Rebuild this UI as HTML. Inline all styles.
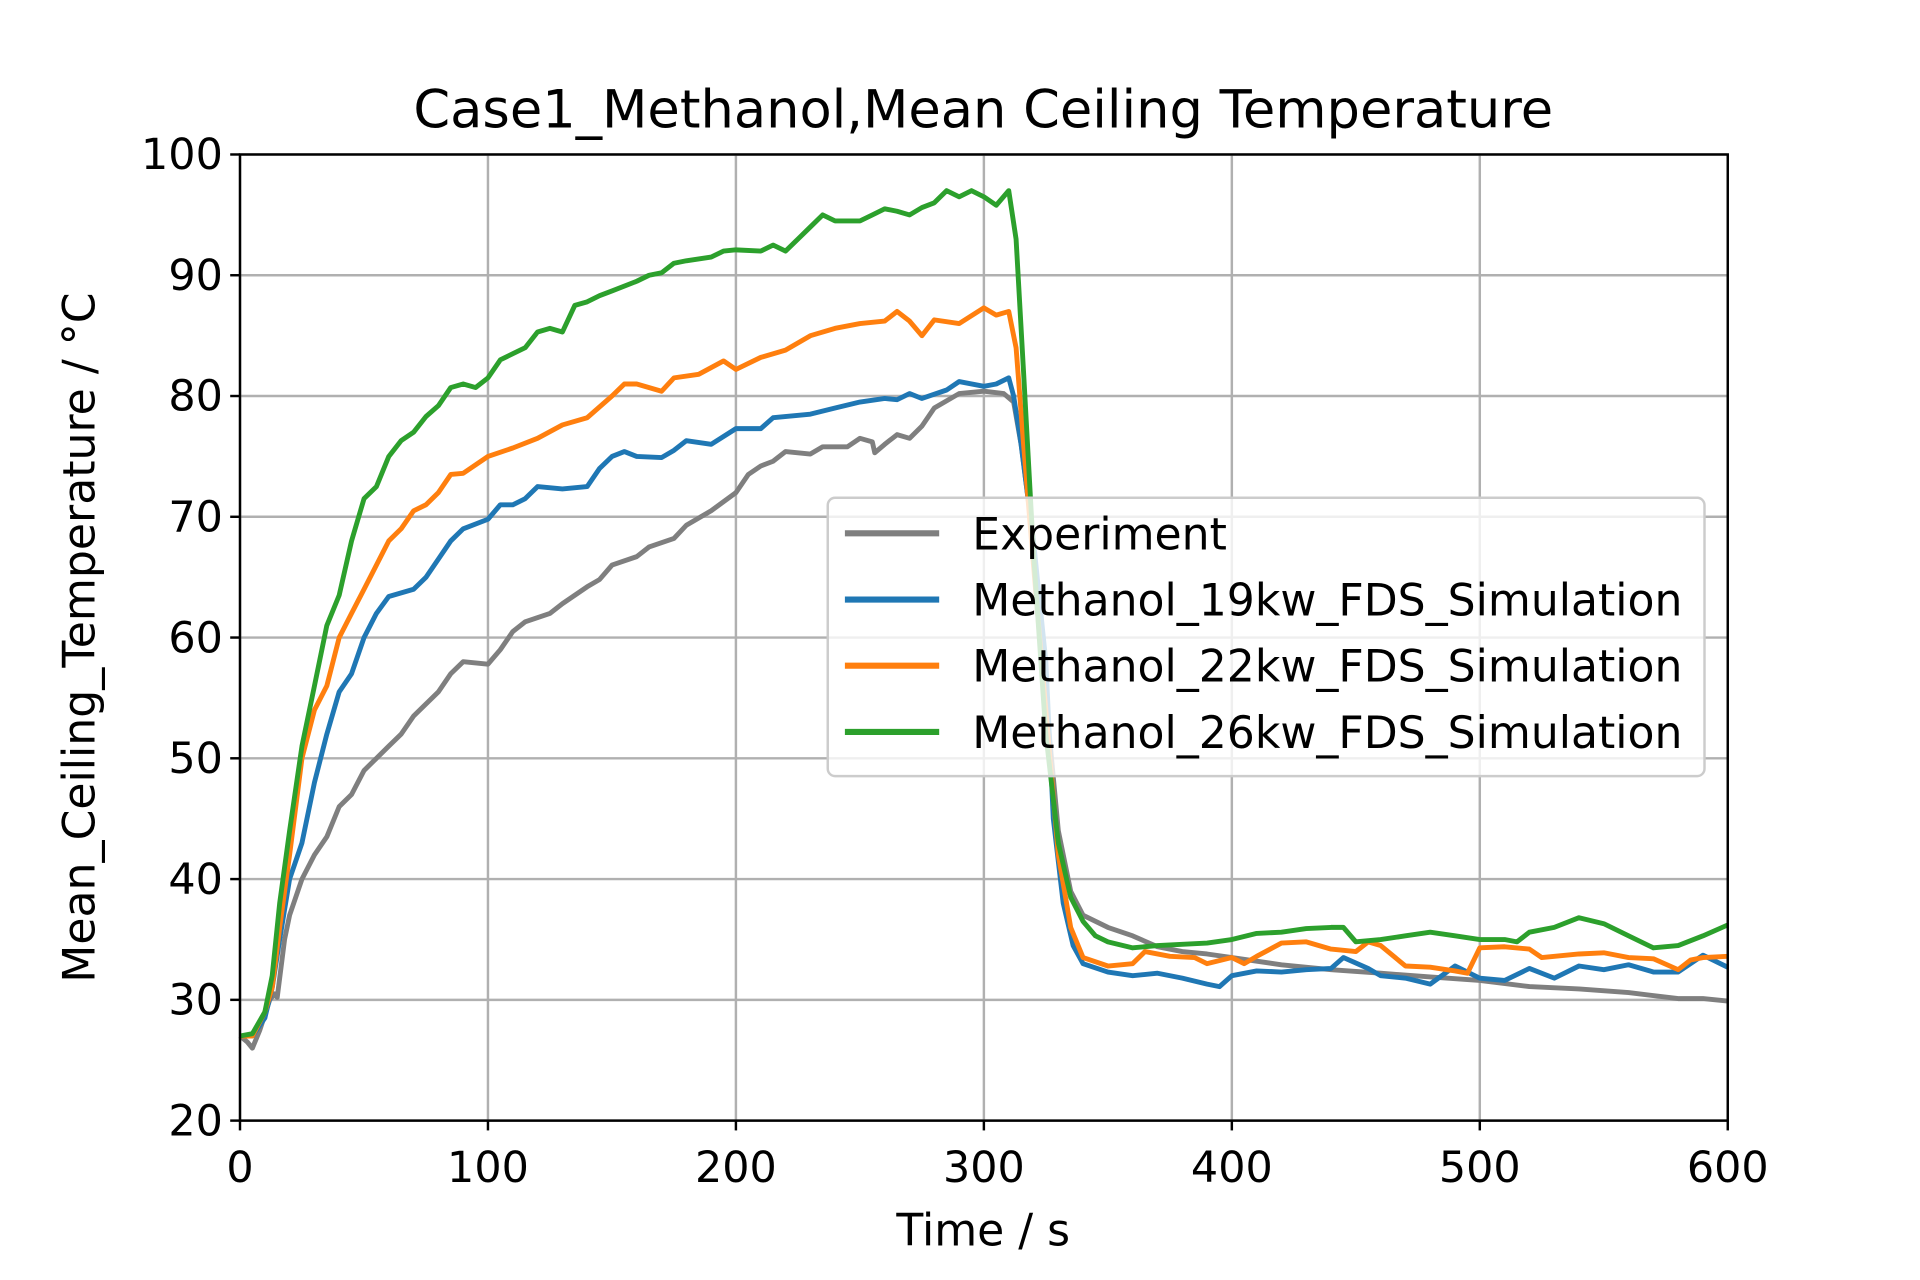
<!DOCTYPE html>
<html><head><meta charset="utf-8">
<style>
html,body{margin:0;padding:0;background:#fff;}
svg{display:block;font-family:"DejaVu Sans","Liberation Sans",sans-serif;}
</style></head>
<body>
<svg id="chart" width="1920" height="1280" viewBox="0 0 1568 1044" preserveAspectRatio="none" xmlns="http://www.w3.org/2000/svg">
<rect width="1568" height="1044" fill="#fff"/>
<g id="grid"></g>
<g id="series"></g>
<rect x="196" y="126" width="1215" height="788" fill="none" stroke="#000" stroke-width="2"/>
<g id="ticks"></g>
<text x="803" y="104" font-size="43" text-anchor="middle">Case1_Methanol,Mean Ceiling Temperature</text>
<text x="803" y="1016" font-size="36" text-anchor="middle">Time / s</text>
<text transform="translate(77,520) rotate(-90)" font-size="36" text-anchor="middle">Mean_Ceiling_Temperature / °C</text>
<g>
<rect x="676" y="406" width="716" height="227" rx="6" fill="#fff" fill-opacity="0.8" stroke="#ccc" stroke-width="2"/>
<line x1="690" y1="435" x2="767" y2="435" stroke="#7f7f7f" stroke-width="5"/>
<text x="794" y="448" font-size="36">Experiment</text>
<line x1="690" y1="489" x2="767" y2="489" stroke="#1f77b4" stroke-width="5"/>
<text x="794" y="502" font-size="36">Methanol_19kw_FDS_Simulation</text>
<line x1="690" y1="543" x2="767" y2="543" stroke="#ff7f0e" stroke-width="5"/>
<text x="794" y="556" font-size="36">Methanol_22kw_FDS_Simulation</text>
<line x1="690" y1="597" x2="767" y2="597" stroke="#2ca02c" stroke-width="5"/>
<text x="794" y="610" font-size="36">Methanol_26kw_FDS_Simulation</text>
</g>
</svg>
<script>
const xTicks=[0,100,200,300,400,500,600];
const yTicks=[20,30,40,50,60,70,80,90,100];
const expT=[0,3,5,8,12,14,15,18,20,25,30,35,40,45,50,55,60,65,70,80,85,90,100,105,110,115,125,130,140,145,150,160,165,175,180,190,200,205,210,215,220,230,235,245,250,255,256,260,265,270,275,280,290,300,308,312,315,320,325,330,335,340,350,360,370,380,390,400,420,440,460,480,500,520,540,560,580,590,600];
const expV=[27,26.5,26,27.5,30,30.5,30.2,35,37,40,42,43.5,46,47,49,50,51,52,53.5,55.5,57,58,57.8,59,60.5,61.3,62,62.8,64.2,64.8,66,66.7,67.5,68.2,69.3,70.5,72,73.5,74.2,74.6,75.4,75.2,75.8,75.8,76.5,76.2,75.3,76,76.8,76.5,77.5,79,80.2,80.4,80.2,79.5,76,68,55,44,39,37,36,35.3,34.4,34,33.8,33.5,32.9,32.5,32.2,31.9,31.6,31.1,30.9,30.6,30.1,30.1,29.9];
const s19T=[0,5,10,13,16,20,25,30,35,40,45,50,55,60,70,75,80,85,90,100,105,110,115,120,130,140,145,150,155,160,170,175,180,190,200,210,215,230,240,250,260,265,270,275,285,290,300,305,310,312,315,320,325,328,332,336,340,350,360,370,380,390,395,400,410,420,430,440,445,455,460,470,480,490,500,510,520,530,540,550,560,570,580,590,600];
const s19V=[27,27,28.5,31,35,40,43,48,52,55.5,57,60,62,63.4,64,65,66.5,68,69,69.8,71,71,71.5,72.5,72.3,72.5,74,75,75.4,75,74.9,75.5,76.3,76,77.3,77.3,78.2,78.5,79,79.5,79.8,79.7,80.2,79.8,80.5,81.2,80.8,81,81.5,80,76,68,58,45,38,34.5,33,32.3,32,32.2,31.8,31.3,31.1,32,32.4,32.3,32.5,32.6,33.5,32.6,32,31.8,31.3,32.8,31.8,31.6,32.6,31.8,32.8,32.5,32.9,32.3,32.3,33.7,32.7];
const s22T=[0,5,10,13,16,20,25,30,35,40,45,50,55,60,65,70,75,80,85,90,100,110,120,130,140,150,155,160,170,175,185,195,200,210,220,230,240,250,260,265,270,275,280,290,300,305,310,313,316,320,325,330,335,340,350,360,365,375,385,390,400,405,410,420,430,440,450,455,460,470,480,490,495,500,510,520,525,540,550,560,570,580,585,590,600];
const s22V=[27,27,29,31,36,42,50,54,56,60,62,64,66,68,69,70.5,71,72,73.5,73.6,75,75.7,76.5,77.6,78.2,80,81,81,80.4,81.5,81.8,82.9,82.2,83.2,83.8,85,85.6,86,86.2,87,86.2,85,86.3,86,87.3,86.7,87,84,76,66,54,42,36,33.5,32.8,33,34,33.6,33.5,33,33.5,33,33.6,34.7,34.8,34.2,34,34.8,34.5,32.8,32.7,32.4,32.2,34.3,34.4,34.2,33.5,33.8,33.9,33.5,33.4,32.5,33.3,33.5,33.6];
const s26T=[0,5,10,13,16,20,25,30,35,40,45,50,55,60,65,70,75,80,85,90,95,100,105,110,115,120,125,130,135,140,145,150,160,165,170,175,180,190,195,200,210,215,220,225,230,235,240,250,255,260,265,270,275,280,285,290,295,300,305,310,313,316,320,325,330,335,340,345,350,360,370,380,390,400,410,420,430,440,445,450,460,470,480,490,500,510,515,520,530,540,550,560,570,580,590,600];
const s26V=[27,27.2,29,32,38,44,51,56,61,63.5,68,71.5,72.5,75,76.3,77,78.3,79.2,80.7,81,80.7,81.5,83,83.5,84,85.3,85.6,85.3,87.5,87.8,88.3,88.7,89.5,90,90.2,91,91.2,91.5,92,92.1,92,92.5,92,93,94,95,94.5,94.5,95,95.5,95.3,95,95.6,96,97,96.5,97,96.5,95.8,97,93,82,67,52,43,38.5,36.5,35.3,34.8,34.3,34.5,34.6,34.7,35,35.5,35.6,35.9,36,36,34.8,35,35.3,35.6,35.3,35,35,34.8,35.6,36,36.8,36.3,35.3,34.3,34.5,35.3,36.2];

const X0=196,X1=1411,Y0=914,Y1=126;
const xs=t=>X0+(t-0)/600*(X1-X0);
const ys=v=>Y0-(v-20)/80*(Y0-Y1);
const NS="http://www.w3.org/2000/svg";
const grid=document.getElementById('grid'),ticks=document.getElementById('ticks'),ser=document.getElementById('series');
function mk(tag,attrs,parent){const e=document.createElementNS(NS,tag);for(const k in attrs)e.setAttribute(k,attrs[k]);parent.appendChild(e);return e;}
xTicks.forEach(t=>{
  const g=mk('line',{x1:xs(t),x2:xs(t),y1:Y1,y2:Y0,stroke:'#b0b0b0','stroke-width':2},grid);
  
  
  const tk=mk('line',{x1:xs(t),x2:xs(t),y1:Y0,y2:Y0+8,stroke:'#000','stroke-width':2},ticks);
  
  
  const tx=mk('text',{x:xs(t),y:Y0+50,'font-size':35,'text-anchor':'middle'},ticks);
  tx.textContent=t;
  
  
});
yTicks.forEach(v=>{
  const g=mk('line',{x1:X0,x2:X1,y1:ys(v),y2:ys(v),stroke:'#b0b0b0','stroke-width':2},grid);
  
  
  const tk=mk('line',{x1:X0-8,x2:X0,y1:ys(v),y2:ys(v),stroke:'#000','stroke-width':2},ticks);
  
  
  const tx=mk('text',{x:X0-14,y:ys(v)+12,'font-size':35,'text-anchor':'end'},ticks);
  tx.textContent=v;
  
  
});
function line(T,V,color,name){
  const d=T.map((t,i)=>(i?'L':'M')+xs(t).toFixed(1)+','+ys(V[i]).toFixed(1)).join('');
  const p=mk('path',{d:d,fill:'none',stroke:color,'stroke-width':4,'stroke-linejoin':'round'},ser);
  
  
}
line(expT,expV,'#7f7f7f','experiment-line');
line(s19T,s19V,'#1f77b4','sim-19kw-line');
line(s22T,s22V,'#ff7f0e','sim-22kw-line');
line(s26T,s26V,'#2ca02c','sim-26kw-line');
</script>
</body></html>
